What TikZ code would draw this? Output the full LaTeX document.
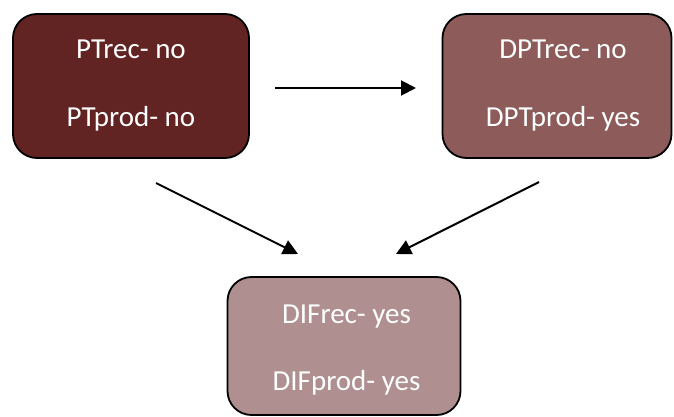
\documentclass[tikz,border=0pt]{standalone}
\usepackage{fontspec}
\setmainfont{Carlito}
\usetikzlibrary{arrows.meta}
\definecolor{boxA}{HTML}{622423}
\definecolor{boxB}{HTML}{8C5B5A}
\definecolor{boxC}{HTML}{AF8F8F}
\begin{document}
\begin{tikzpicture}[x=1pt,y=-1pt,
  statebox/.style={draw=black, line width=1.8pt, rounded corners=24pt,
    inner sep=0pt},
  line/.style={text=white, anchor=base, inner sep=0pt,
    font=\fontsize{29}{34}\selectfont},
  flow/.style={line width=2pt, -{Triangle[length=15pt,width=15pt]}}]
  \useasboundingbox (0,0) rectangle (674,417);
  % three rounded state boxes
  \node[statebox, fill=boxA, minimum width=236pt, minimum height=144pt] (pt) at (131,86) {};
  \node[statebox, fill=boxB, minimum width=229pt, minimum height=144pt] (dpt) at (557,86) {};
  \node[statebox, fill=boxC, minimum width=233pt, minimum height=138pt] (dif) at (344,346) {};
  % box texts, one baseline per line
  \node[line] (ptrec)   at (131,59)  {PTrec- no};
  \node[line] (ptprod)  at (131,127) {PTprod- no};
  \node[line] (dptrec)  at (563,59)  {DPTrec- no};
  \node[line] (dptprod) at (563,127) {DPTprod- yes};
  \node[line] (difrec)  at (346.5,323) {DIFrec- yes};
  \node[line] (difprod) at (346.5,390) {DIFprod- yes};
  % connectors
  \coordinate (h1) at (275,88);
  \coordinate (h2) at (416,88);
  \coordinate (l1) at (156,183);
  \coordinate (l2) at (298,254);
  \coordinate (r1) at (539,182);
  \coordinate (r2) at (396,254);
  \draw[flow] (h1) -- (h2);
  \draw[flow] (l1) -- (l2);
  \draw[flow] (r1) -- (r2);
\end{tikzpicture}
\end{document}
